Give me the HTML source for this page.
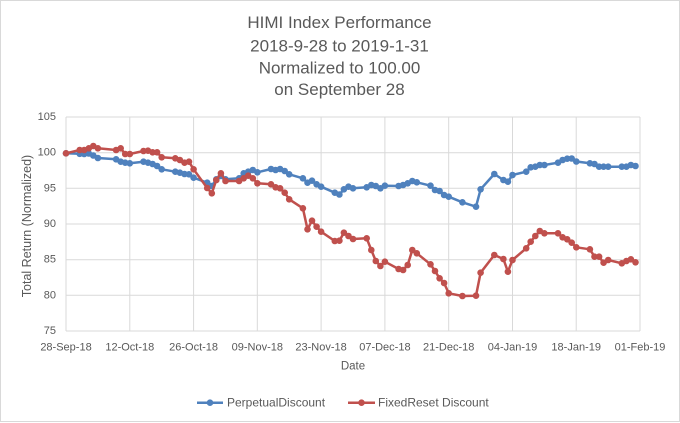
<!DOCTYPE html>
<html>
<head>
<meta charset="utf-8">
<style>
  html, body { margin: 0; padding: 0; background: #ffffff; }
  svg { display: block; }
  text { font-family: "Liberation Sans", Arial, sans-serif; fill: #595959; }
</style>
</head>
<body>
<svg width="680" height="423" viewBox="0 0 680 423" xmlns="http://www.w3.org/2000/svg">
  <defs>
    <marker id="mb" markerWidth="8" markerHeight="8" refX="4" refY="4" markerUnits="userSpaceOnUse">
      <circle cx="4" cy="4" r="3.3" fill="#4F81BD"/>
    </marker>
    <marker id="mr" markerWidth="8" markerHeight="8" refX="4" refY="4" markerUnits="userSpaceOnUse">
      <circle cx="4" cy="4" r="3.3" fill="#C0504D"/>
    </marker>
  </defs>

  <rect x="0" y="0" width="680" height="423" fill="#ffffff"/>
  <rect x="0.5" y="0.5" width="679" height="421" fill="none" stroke="#D9D9D9" stroke-width="1"/>

  <!-- Title -->
  <g font-size="17" text-anchor="middle">
    <text x="339.5" y="28">HIMI Index Performance</text>
    <text x="339.5" y="51.5">2018-9-28 to 2019-1-31</text>
    <text x="339.5" y="73.5">Normalized to 100.00</text>
    <text x="339.5" y="95">on September 28</text>
  </g>

  <!-- Gridlines -->
  <g stroke="#D9D9D9" stroke-width="1" fill="none">
    <line x1="66" y1="117" x2="640" y2="117"/>
    <line x1="66" y1="152.7" x2="640" y2="152.7"/>
    <line x1="66" y1="188.3" x2="640" y2="188.3"/>
    <line x1="66" y1="224" x2="640" y2="224"/>
    <line x1="66" y1="259.7" x2="640" y2="259.7"/>
    <line x1="66" y1="295.3" x2="640" y2="295.3"/>
    <line x1="66" y1="331" x2="640" y2="331"/>
    <line x1="66" y1="117" x2="66" y2="331"/>
    <line x1="129.8" y1="117" x2="129.8" y2="331"/>
    <line x1="193.6" y1="117" x2="193.6" y2="331"/>
    <line x1="257.3" y1="117" x2="257.3" y2="331"/>
    <line x1="321.1" y1="117" x2="321.1" y2="331"/>
    <line x1="384.9" y1="117" x2="384.9" y2="331"/>
    <line x1="448.7" y1="117" x2="448.7" y2="331"/>
    <line x1="512.5" y1="117" x2="512.5" y2="331"/>
    <line x1="576.2" y1="117" x2="576.2" y2="331"/>
    <line x1="640" y1="117" x2="640" y2="331"/>
  </g>

  <!-- Y tick labels -->
  <g font-size="11" text-anchor="end" dominant-baseline="central">
    <text x="56" y="117">105</text>
    <text x="56" y="152.7">100</text>
    <text x="56" y="188.3">95</text>
    <text x="56" y="224">90</text>
    <text x="56" y="259.7">85</text>
    <text x="56" y="295.3">80</text>
    <text x="56" y="331">75</text>
  </g>

  <!-- X tick labels -->
  <g font-size="11" text-anchor="middle">
    <text x="66" y="350.5">28-Sep-18</text>
    <text x="129.8" y="350.5">12-Oct-18</text>
    <text x="193.6" y="350.5">26-Oct-18</text>
    <text x="257.3" y="350.5">09-Nov-18</text>
    <text x="321.1" y="350.5">23-Nov-18</text>
    <text x="384.9" y="350.5">07-Dec-18</text>
    <text x="448.7" y="350.5">21-Dec-18</text>
    <text x="512.5" y="350.5">04-Jan-19</text>
    <text x="576.2" y="350.5">18-Jan-19</text>
    <text x="640" y="350.5">01-Feb-19</text>
  </g>

  <!-- Axis titles -->
  <text x="353" y="366.7" font-size="11.5" text-anchor="middle" dominant-baseline="central">Date</text>
  <text transform="translate(27,226) rotate(-90)" font-size="12.5" text-anchor="middle" dominant-baseline="central">Total Return (Normalized)</text>

  <!-- Blue series: PerpetualDiscount -->
  <polyline fill="none" stroke="#4F81BD" stroke-width="2.5" stroke-linejoin="round" stroke-linecap="round"
    marker-start="url(#mb)" marker-mid="url(#mb)" marker-end="url(#mb)"
    points="66,153.3 79.7,153.8 84.2,154 88.8,153.5 93.3,155.5 97.9,158 116.1,159.3 120.7,161.7 125.2,162.7 129.8,163.3 143.5,161.7 148,162.7 152.6,164 157.1,166 161.7,169.3 175.3,171.7 179.9,172.7 184.5,174 189,174.3 193.6,177.7 207.2,182.7 211.8,186 216.3,179.3 220.9,176 225.5,179.3 239.1,178.3 243.7,173.3 248.2,171.7 252.8,170 257.4,172.3 271,169 275.6,170 280.1,169 284.7,171 289.2,174.3 302.9,178.3 307.5,182.7 312,180.7 316.6,184.3 321.1,186.7 334.8,192.7 339.4,194.5 343.9,189.3 348.5,186.7 353,188.3 366.7,187.3 371.3,185 375.8,186 380.4,188.3 384.9,185.7 398.6,186 403.1,185 407.7,183.3 412.3,181 416.8,182.3 430.5,185.7 435,190 439.6,191 444.1,195 448.7,196.7 462.4,202.3 476,206.7 480.6,189.3 494.3,174 503.4,180 507.9,181.7 512.5,175 526.2,171.7 530.7,167.3 535.3,166.7 539.8,165 544.4,165 558,162.7 562.6,160 567.2,158.7 571.7,158.5 576.3,161.5 589.9,163.3 594.5,164 599.1,166.7 603.6,166.7 608.2,166.7 621.8,166.7 626.4,166.7 630.9,165 635.5,166"/>

  <!-- Red series: FixedReset Discount -->
  <polyline fill="none" stroke="#C0504D" stroke-width="2.5" stroke-linejoin="round" stroke-linecap="round"
    marker-start="url(#mr)" marker-mid="url(#mr)" marker-end="url(#mr)"
    points="66,153.3 79.7,150 84.2,150 88.8,148.3 93.3,146 97.9,148.3 116.1,150 120.7,148.3 125.2,154 129.8,154 143.5,151 148,150.7 152.6,152.3 157.1,152.3 161.7,157.3 175.3,158.3 179.9,160 184.5,162.7 189,161.7 193.6,169.3 207.2,188 211.8,193.3 216.3,180 220.9,173.3 225.5,181 239.1,181 243.7,178.3 248.2,175.7 252.8,178.3 257.4,183.3 271,184.3 275.6,187.3 280.1,188.3 284.7,192.7 289.2,199.3 302.9,208.3 307.5,229.3 312,220.7 316.6,226.7 321.1,231.7 334.8,241 339.4,240.7 343.9,232.7 348.5,236 353,239 366.7,238.3 371.3,250 375.8,261 380.4,266 384.9,261.7 398.6,269 403.1,270 407.7,265 412.3,250 416.8,253.3 430.5,264.3 435,271 439.6,278.3 444.1,283 448.7,293.3 462.4,296 476,295.7 480.6,272.7 494.3,255 503.4,259 507.9,271.7 512.5,260 526.2,248.3 530.7,241.7 535.3,236 539.8,231 544.4,233.3 558,233.3 562.6,237.3 567.2,239.3 571.7,242.7 576.3,247.3 589.9,249.3 594.5,256.7 599.1,256.7 603.6,262.7 608.2,260 621.8,263.3 626.4,261 630.9,259.3 635.5,262.3"/>

  <!-- Legend -->
  <line x1="197" y1="402.7" x2="223" y2="402.7" stroke="#4F81BD" stroke-width="2.5"/>
  <circle cx="210" cy="402.7" r="3.3" fill="#4F81BD"/>
  <text x="227" y="402.7" font-size="12" dominant-baseline="central">PerpetualDiscount</text>

  <line x1="348" y1="402.7" x2="375" y2="402.7" stroke="#C0504D" stroke-width="2.5"/>
  <circle cx="361.5" cy="402.7" r="3.3" fill="#C0504D"/>
  <text x="378" y="402.7" font-size="12" dominant-baseline="central">FixedReset Discount</text>
</svg>
</body>
</html>
